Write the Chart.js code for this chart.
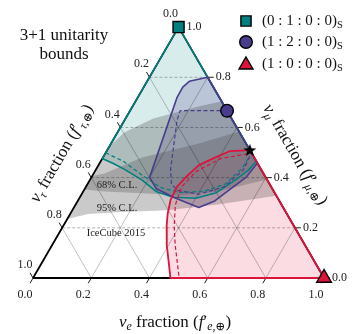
<!DOCTYPE html>
<html><head><meta charset="utf-8">
<script src="https://cdn.jsdelivr.net/npm/chart.js@4.4.0/dist/chart.umd.min.js"></script>
<style>html,body{margin:0;padding:0;background:#fff;}canvas{display:block;}</style>
</head><body>
<canvas id="c" width="359" height="334"></canvas>
<script>
// ---------- data (ternary coordinates: fe = nu_e fraction, fmu = nu_mu fraction) ----------
const tickValues = [0.0, 0.2, 0.4, 0.6, 0.8, 1.0];
const tickLabels = ['0.0', '0.2', '0.4', '0.6', '0.8', '1.0'];
const gridValues = [0.2, 0.4, 0.6, 0.8];

// (0:1:0:0)_S  teal boundary (left edge -> right edge)
const tealSolidFe  = [0.000, 0.050, 0.100, 0.180, 0.250, 0.320, 0.400, 0.460, 0.500, 0.525, 0.535];
const tealSolidFmu = [0.476, 0.455, 0.432, 0.390, 0.345, 0.322, 0.318, 0.340, 0.390, 0.430, 0.465];
const tealDashFe   = [0.000, 0.078, 0.171, 0.260, 0.334, 0.414, 0.474, 0.500, 0.502];
const tealDashFmu  = [0.499, 0.465, 0.409, 0.360, 0.341, 0.345, 0.375, 0.439, 0.487];

// (1:2:0:0)_S  purple boundary (right edge -> right edge)
const purpSolidFe  = [0.200, 0.145, 0.134, 0.135, 0.200, 0.246, 0.329, 0.429, 0.471, 0.495, 0.531, 0.542];
const purpSolidFmu = [0.800, 0.784, 0.761, 0.720, 0.401, 0.356, 0.319, 0.281, 0.307, 0.345, 0.401, 0.458];
const purpDashFe   = [0.333, 0.172, 0.180, 0.257, 0.288, 0.321, 0.403, 0.476, 0.507, 0.502];
const purpDashFmu  = [0.667, 0.667, 0.630, 0.431, 0.375, 0.349, 0.334, 0.364, 0.431, 0.487];

// (1:0:0:0)_S  red boundary (star -> bottom edge)
const redSolidFe   = [0.490, 0.424, 0.385, 0.345, 0.325, 0.313, 0.317, 0.335, 0.356, 0.394, 0.434, 0.472];
const redSolidFmu  = [0.510, 0.506, 0.480, 0.450, 0.405, 0.364, 0.311, 0.255, 0.206, 0.131, 0.064, 0.000];
const redDashFe    = [0.490, 0.407, 0.348, 0.329, 0.343, 0.382, 0.423, 0.502];
const redDashFmu   = [0.495, 0.476, 0.424, 0.364, 0.292, 0.206, 0.131, 0.000];

// IceCube 2015 contours
const ic95Fe  = [-0.058, 0.004, 0.062, 0.169, 0.328, 0.488, 0.726, 0.487, 0.232, 0.095, 0.023, -0.008, -0.091, -0.113];
const ic95Fmu = [ 0.218, 0.236, 0.255, 0.263, 0.270, 0.293, 0.338, 0.760, 0.685, 0.636, 0.580,  0.506,  0.413,  0.263];
const ic68Fe  = [-0.030, 0.073, 0.206, 0.340, 0.462, 0.657, 0.534, 0.409, 0.302, 0.135, 0.037, -0.049];
const ic68Fmu = [ 0.356, 0.345, 0.338, 0.330, 0.345, 0.409, 0.656, 0.581, 0.536, 0.480, 0.416,  0.394];

// special points
const squareFe = 0, squareFmu = 1;
const circleFe = 1/3, circleFmu = 2/3;
const triFe = 1, triFmu = 0;
const starFe = 0.49, starFmu = 0.51;

const legendLabels = ['(0 : 1 : 0 : 0)', '(1 : 2 : 0 : 0)', '(1 : 0 : 0 : 0)'];

// ---------- helpers ----------
const S3 = Math.sqrt(3) / 2;
function toXY(fe, fm) { return { x: fe + fm / 2, y: fm * S3 }; }
function pts(fe, fm) { return fe.map((v, i) => toXY(v, fm[i])); }
function clipTri(fe, fm) {
  let out = fe.map((v, i) => [v, fm[i]]);
  const planes = [p => p[0], p => p[1], p => 1 - p[0] - p[1]];
  for (const f of planes) {
    const inp = out; out = [];
    for (let i = 0; i < inp.length; i++) {
      const a = inp[i], b = inp[(i + 1) % inp.length];
      const fa = f(a), fb = f(b);
      if (fa >= 0) out.push(a);
      if ((fa >= 0) !== (fb >= 0)) {
        const t = fa / (fa - fb);
        out.push([a[0] + t * (b[0] - a[0]), a[1] + t * (b[1] - a[1])]);
      }
    }
  }
  return out.map(p => toXY(p[0], p[1]));
}

const TEAL = 'rgb(0,128,128)', PURP = 'rgb(72,61,139)', RED = 'rgb(220,20,60)';

const tealPoly = [toXY(0, 1), ...pts(tealSolidFe, tealSolidFmu), toXY(0, 1)];
const purpPoly = [...pts(purpSolidFe, purpSolidFmu), toXY(purpSolidFe[0], purpSolidFmu[0])];
const redPoly = [...pts(redSolidFe, redSolidFmu), toXY(1, 0), toXY(redSolidFe[0], redSolidFmu[0])];

const layers = [];
function fillDs(data, color) {
  layers.push({ data, showLine: true, fill: 'shape', backgroundColor: color, borderColor: 'rgba(0,0,0,0)', borderWidth: 1, pointRadius: 0, tension: 0 });
}
function lineDs(data, color, w, dash) {
  layers.push({ data, showLine: true, fill: false, borderColor: color, borderWidth: w, borderDash: dash || [], pointRadius: 0, tension: 0, borderJoinStyle: 'round' });
}
fillDs(tealPoly, 'rgba(0,128,128,0.15)');
fillDs(purpPoly, 'rgba(72,61,139,0.22)');
fillDs(redPoly, 'rgba(220,20,60,0.15)');
fillDs(clipTri(ic95Fe, ic95Fmu), 'rgba(60,60,60,0.27)');
fillDs(clipTri(ic68Fe, ic68Fmu), 'rgba(60,60,60,0.26)');
// grid
for (const v of gridValues) {
  lineDs([toXY(v, 0), toXY(v, 1 - v)], 'rgba(0,0,0,0.42)', 0.6);
  lineDs([toXY(1 - v, 0), toXY(0, 1 - v)], 'rgba(0,0,0,0.42)', 0.6);
  lineDs([toXY(0, v), toXY(1 - v, v)], 'rgba(0,0,0,0.5)', 0.6, [3, 2]);
}
// triangle
lineDs([toXY(0, 0), toXY(1, 0), toXY(0, 1), toXY(0, 0)], '#000', 1.8);
// region outlines
lineDs(tealPoly, TEAL, 1.6);
lineDs(pts(tealDashFe, tealDashFmu), TEAL, 1.2, [4, 2.5]);
lineDs(purpPoly, PURP, 1.6);
lineDs(pts(purpDashFe, purpDashFmu), PURP, 1.2, [4, 2.5]);
lineDs(redPoly, RED, 1.8);
lineDs(pts(redDashFe, redDashFmu), RED, 1.2, [4, 2.5]);

// star image
const starImg = document.createElement('canvas');
starImg.width = 14; starImg.height = 14;
(function () {
  const g = starImg.getContext('2d');
  g.beginPath();
  for (let i = 0; i < 10; i++) {
    const r = i % 2 ? 2.8 : 6.8;
    const a = -Math.PI / 2 + i * Math.PI / 5;
    g.lineTo(7 + r * Math.cos(a), 7.5 + r * Math.sin(a));
  }
  g.closePath(); g.fillStyle = '#000'; g.fill();
})();

function markerDs(fe, fm, style, radius, color) {
  layers.push({ data: [toXY(fe, fm)], showLine: false, pointStyle: style, pointRadius: radius, backgroundColor: color, borderColor: '#000', borderWidth: 1.4 });
}
markerDs(squareFe, squareFmu, 'rect', 7.8, TEAL);
markerDs(circleFe, circleFmu, 'circle', 6.3, PURP);
markerDs(triFe, triFmu, 'triangle', 8.5, RED);
markerDs(starFe, starFmu, starImg, 7, '#000');

layers.forEach((d, i) => { d.order = layers.length - i; });

// ---------- text plugin ----------
const FAM = '"Liberation Serif", "DejaVu Serif", serif';
function drawRich(ctx, parts, cx, cy, angle, size) {
  ctx.save(); ctx.translate(cx, cy); ctx.rotate(angle);
  const fontFor = k => {
    const it = k.includes('i') ? 'italic ' : '';
    const s = (k.startsWith('sub') || k.startsWith('sup')) ? size * 0.7 : size;
    return it + s.toFixed(1) + 'px ' + FAM;
  };
  let total = 0;
  for (const [t, k] of parts) { ctx.font = fontFor(k); total += ctx.measureText(t).width; }
  let x = -total / 2;
  ctx.textAlign = 'left'; ctx.textBaseline = 'alphabetic'; ctx.fillStyle = '#111';
  for (const [t, k] of parts) {
    ctx.font = fontFor(k);
    let dy = 0;
    if (k.startsWith('sub')) dy = size * 0.22;
    if (k.startsWith('sup')) dy = -size * 0.38;
    ctx.fillText(t, x, dy + size * 0.33);
    x += ctx.measureText(t).width;
  }
  ctx.restore();
}

const textPlugin = {
  id: 'ternaryText',
  beforeDatasetsDraw(chart) {
    const ctx = chart.ctx, sx = chart.scales.x, sy = chart.scales.y;
    const P = (fe, fm) => { const q = toXY(fe, fm); return [sx.getPixelForValue(q.x), sy.getPixelForValue(q.y)]; };
    ctx.save();
    ctx.strokeStyle = '#000'; ctx.lineWidth = 0.9;
    ctx.fillStyle = '#222';
    ctx.font = '12px ' + FAM; ctx.textBaseline = 'middle'; ctx.textAlign = 'center';
    tickValues.forEach((v, i) => {
      let [x, y] = P(v, 0);
      ctx.beginPath(); ctx.moveTo(x, y); ctx.lineTo(x - 3, y + 5.2); ctx.stroke();
      ctx.textAlign = 'center'; ctx.fillText(tickLabels[i], x - 8, y + 17);
      [x, y] = P(1 - v, v);
      ctx.beginPath(); ctx.moveTo(x, y); ctx.lineTo(x + 6, y); ctx.stroke();
      ctx.textAlign = 'left'; ctx.fillText(tickLabels[i], x + 8, y);
      [x, y] = P(0, 1 - v);
      ctx.beginPath(); ctx.moveTo(x, y); ctx.lineTo(x - 3, y - 5.2); ctx.stroke();
      ctx.textAlign = 'center'; ctx.fillText(tickLabels[i], x - 8, y - 13);
    });
    ctx.restore();
  },
  afterDraw(chart) {
    const ctx = chart.ctx;
    ctx.save();
    ctx.fillStyle = '#111'; ctx.textAlign = 'center'; ctx.textBaseline = 'middle';
    ctx.font = '17px ' + FAM;
    ctx.fillText('3+1 unitarity', 64, 36);
    ctx.fillText('bounds', 64, 55);
    ctx.font = '10.5px ' + FAM; ctx.fillStyle = '#222';
    ctx.fillText('68% C.L.', 117, 185);
    ctx.fillText('95% C.L.', 117, 208);
    ctx.fillText('IceCube 2015', 116, 233);
    ctx.restore();
    drawRich(ctx, [['ν', 'i'], ['e', 'subi'], [' fraction (', 'n'], ['f', 'i'], ['′', 'n'], ['e,⊕', 'subi'], [')', 'n']], 175, 321, 0, 17);
    drawRich(ctx, [['ν', 'i'], ['τ', 'subi'], [' fraction (', 'n'], ['f', 'i'], ['′', 'n'], ['τ,⊕', 'subi'], [')', 'n']], 61, 153, -Math.PI / 3, 17);
    drawRich(ctx, [['ν', 'i'], ['μ', 'subi'], [' fraction (', 'n'], ['f', 'i'], ['′', 'n'], ['μ,⊕', 'subi'], [')', 'n']], 296, 154, Math.PI / 3, 17);
    const styles = [['rect', 7.2, TEAL], ['circle', 6.3, PURP], ['triangle', 8, RED]];
    const ys = [21, 42, 64];
    styles.forEach((s, i) => {
      ctx.save();
      ctx.fillStyle = s[2]; ctx.strokeStyle = '#000'; ctx.lineWidth = 1.4;
      Chart.helpers.drawPoint(ctx, { pointStyle: s[0], radius: s[1], rotation: 0, borderWidth: 1.4 }, 246, ys[i] + (i === 2 ? 1 : 0));
      ctx.restore();
      ctx.save();
      ctx.fillStyle = '#111'; ctx.textAlign = 'left'; ctx.textBaseline = 'middle';
      ctx.font = '15px ' + FAM;
      ctx.fillText(legendLabels[i], 262, ys[i]);
      const w = ctx.measureText(legendLabels[i]).width;
      ctx.font = '10.5px ' + FAM;
      ctx.fillText('S', 262 + w, ys[i] + 4);
      ctx.restore();
    });
  }
};

new Chart(document.getElementById('c'), {
  type: 'scatter',
  data: { datasets: layers },
  options: {
    responsive: false, animation: false, events: [],
    layout: { padding: 0 },
    plugins: { legend: { display: false }, tooltip: { enabled: false } },
    scales: {
      x: { type: 'linear', display: false, min: -24.5 / 308, max: (359 - 24.5) / 308 },
      y: { type: 'linear', display: false, min: (285 - 334) / 308, max: 285 / 308 }
    }
  },
  plugins: [textPlugin]
});
</script>
</body></html>
